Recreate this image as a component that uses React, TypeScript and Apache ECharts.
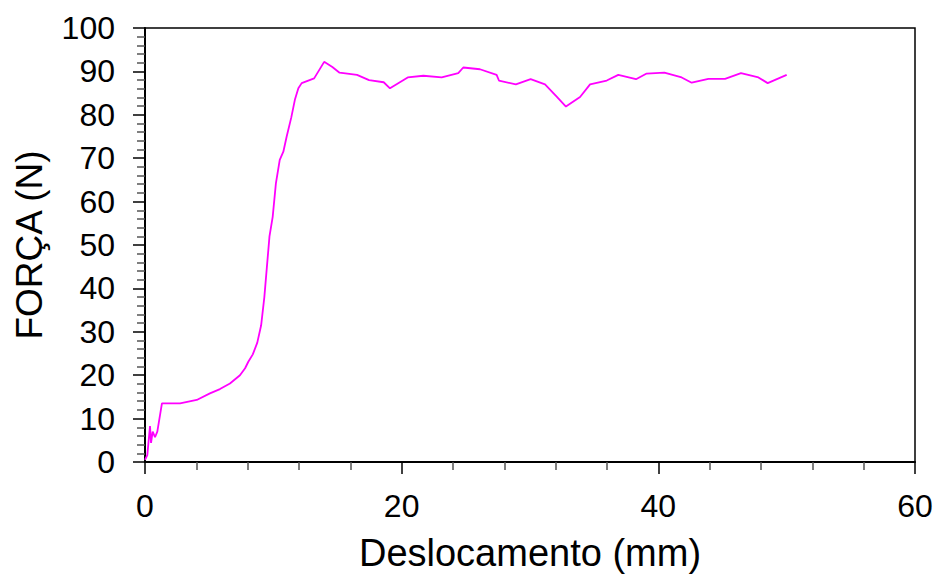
import React, { useEffect, useRef } from "react";
import * as echarts from "echarts";

const displacement: number[] = [
  0, 0.18, 0.39, 0.47, 0.6, 0.78, 0.96, 1.32, 2.73, 4.03, 5.06, 5.84, 6.62, 7.4, 7.8, 8.05,
  8.4, 8.75, 9.05, 9.3, 9.5, 9.7, 9.95, 10.2, 10.5, 10.78, 11.04, 11.4, 11.69, 11.95, 12.21, 13.18, 13.96,
  14.6, 15.16, 16.52, 17.46, 18.6, 19.09, 20.47, 21.69, 23.12, 24.41, 24.8, 26.1, 27.4, 27.58,
  28.9, 30.05, 31.17, 32.08, 32.8, 33.9, 34.68, 35.98, 36.88, 38.26, 39.09, 40.47, 41.82, 42.6,
  43.9, 45.2, 46.44, 47.8, 48.52, 50.0,
];
const force: number[] = [
  0.5, 1.6, 8.3, 4.4, 7, 5.7, 7, 13.5, 13.5, 14.3, 15.8, 16.8, 18.1, 20, 21.6, 23.1,
  24.8, 27.5, 31.5, 38, 45, 52, 56.5, 64.2, 69.6, 71.5, 75, 79.4, 83.6, 86.1, 87.3, 88.4, 92.2,
  91.0, 89.7, 89.2, 88, 87.5, 86.1, 88.6, 89, 88.6, 89.6, 90.9, 90.5, 89.2, 87.9,
  87, 88.2, 87, 84.2, 81.9, 84.1, 87, 87.9, 89.2, 88.2, 89.5, 89.7, 88.6, 87.4,
  88.3, 88.3, 89.6, 88.6, 87.3, 89.2,
];

const xTitle = "Deslocamento (mm)";
const yTitle = "FORÇA (N)";

export default function App() {
  const ref = useRef<HTMLDivElement>(null);
  useEffect(() => {
    if (!ref.current) return;
    const chart = echarts.init(ref.current, null, { renderer: "svg" });
    const font = "Arial, 'Liberation Sans', sans-serif";
    chart.setOption({
      animation: false,
      backgroundColor: "#ffffff",
      grid: {
        left: 145,
        right: 25,
        top: 28,
        bottom: 117,
        show: true,
        borderColor: "#000",
        borderWidth: 1.5,
        backgroundColor: "transparent",
      },
      xAxis: {
        type: "value",
        min: 0,
        max: 60,
        interval: 20,
        name: xTitle,
        nameLocation: "middle",
        nameGap: 72,
        nameTextStyle: { fontFamily: font, fontSize: 38, color: "#000" },
        axisLine: { show: true, onZero: false, lineStyle: { color: "#000", width: 2 } },
        axisTick: { show: true, inside: false, length: 12, lineStyle: { color: "#000", width: 1.5 } },
        minorTick: { show: true, splitNumber: 5, length: 8, lineStyle: { color: "#555", width: 1.5 } },
        splitLine: { show: false },
        minorSplitLine: { show: false },
        axisLabel: { fontFamily: font, fontSize: 32, color: "#000", margin: 28 },
      },
      yAxis: {
        type: "value",
        min: 0,
        max: 100,
        interval: 10,
        name: yTitle,
        nameLocation: "middle",
        nameGap: 97,
        nameTextStyle: { fontFamily: font, fontSize: 37, color: "#000" },
        axisLine: { show: true, onZero: false, lineStyle: { color: "#000", width: 2 } },
        axisTick: { show: true, inside: false, length: 12, lineStyle: { color: "#000", width: 1.5 } },
        minorTick: { show: true, splitNumber: 5, length: 8, lineStyle: { color: "#555", width: 1.5 } },
        splitLine: { show: false },
        minorSplitLine: { show: false },
        axisLabel: { fontFamily: font, fontSize: 32, color: "#000", margin: 30 },
      },
      series: [
        {
          type: "line",
          data: displacement.map((x, i) => [x, force[i]]),
          showSymbol: false,
          symbol: "none",
          lineStyle: { color: "#ff00ff", width: 1.8 },
          itemStyle: { color: "#ff00ff" },
        },
      ],
    });
    return () => chart.dispose();
  }, []);
  return (
    <div
      ref={ref}
      style={{ position: "fixed", left: 0, top: 0, width: 940, height: 579, background: "#fff" }}
    />
  );
}
